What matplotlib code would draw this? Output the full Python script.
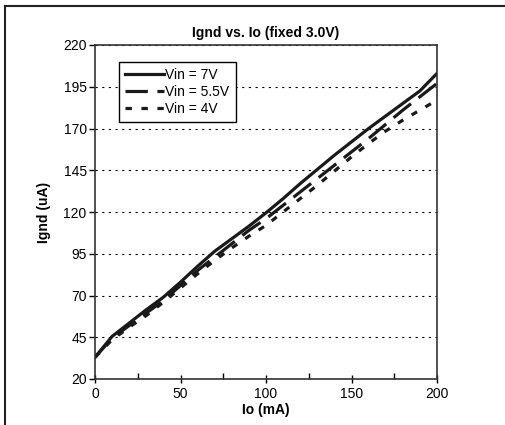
import matplotlib
matplotlib.use("Agg")
import matplotlib.pyplot as plt
from matplotlib.lines import Line2D
from matplotlib.ticker import MultipleLocator, FixedLocator

plt.rcParams['font.family'] = ['Liberation Sans', 'DejaVu Sans']

# Io (mA)
io = [0, 10, 20, 30, 40, 50, 60, 70, 80, 90, 100,
      110, 120, 130, 140, 150, 160, 170, 180, 190, 200]
# Ignd (uA) for each Vin
vin_7 = [33, 45.5, 53.5, 61.5, 69, 78, 87.5, 96.5, 104, 111.5, 119.5,
         128, 137, 145.5, 154, 162, 170, 177.5, 185, 192.5, 203]
vin_5_5 = [33, 44.5, 52, 59.5, 67, 76, 85, 93, 101, 109, 116,
           124, 132, 140, 148, 156, 164, 172.5, 181, 189, 197]
vin_4 = [33, 43.5, 51, 58, 66, 74.5, 83, 91, 98.5, 105.5, 112,
         120, 128, 136, 144.5, 153, 161, 168.5, 175, 181, 187]
y_ticks = [20, 45, 70, 95, 120, 145, 170, 195, 220]

fig = plt.figure(figsize=(5.05, 4.25), dpi=100)
ax = fig.add_axes([95 / 505, 1 - 379 / 425, (437 - 95) / 505, (379 - 45) / 425])

ax.plot(io, vin_7, color='#1a1a1a', lw=2.3, linestyle='-', label='Vin = 7V')
ax.plot(io, vin_5_5, color='#1a1a1a', lw=2.3, linestyle=(0, (7, 3)), label='Vin = 5.5V')
ax.plot(io, vin_4, color='#1a1a1a', lw=2.3, linestyle=(0, (2, 3)), label='Vin = 4V')

ax.set_xlim(0, 200)
ax.set_ylim(20, 220)
ax.xaxis.set_major_locator(MultipleLocator(50))
ax.xaxis.set_minor_locator(MultipleLocator(25))
ax.yaxis.set_major_locator(FixedLocator(y_ticks))
ax.grid(axis='y', color='black', linestyle=(0, (2, 4)), lw=0.8)
ax.set_axisbelow(True)

for s in ax.spines.values():
    s.set_color('#333333')
    s.set_linewidth(1.2)

ax.tick_params(axis='x', which='major', direction='inout', length=6, width=1,
               labelsize=10, pad=3)
ax.tick_params(axis='x', which='minor', direction='in', length=4, width=1)
ax.tick_params(axis='y', direction='out', length=4, width=1, labelsize=10, pad=2)

ax.set_title('Ignd vs. Io (fixed 3.0V)', fontsize=10, fontweight='bold', pad=6)
ax.set_xlabel('Io (mA)', fontsize=10, fontweight='bold', labelpad=1)
ax.set_ylabel('Ignd (uA)', fontsize=10, fontweight='bold', labelpad=9)

leg = ax.legend(loc='upper left', bbox_to_anchor=(0.07, 0.95), fontsize=10,
                handlelength=2.8, handletextpad=0.1, borderpad=0.45,
                labelspacing=0.2, borderaxespad=0, fancybox=False, framealpha=1)
leg.get_frame().set_edgecolor('black')
leg.get_frame().set_linewidth(1.0)

# outer chart frame (top and left edges visible)
fig.add_artist(Line2D([5 / 505, 1], [1 - 6 / 425, 1 - 6 / 425], color='#222222', lw=1.5))
fig.add_artist(Line2D([5 / 505, 5 / 505], [0, 1 - 6 / 425], color='#222222', lw=1.5))

fig.savefig('out.png', dpi=100)
